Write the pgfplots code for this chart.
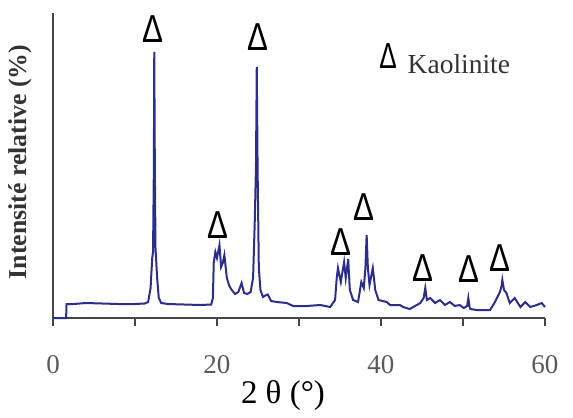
\documentclass[border=0pt]{standalone}
\usepackage{fontspec}
\setmainfont{Liberation Serif}
\newfontfamily\arialf{Liberation Sans}
\usepackage{graphicx}
\usepackage{pgfplots}
\pgfplotsset{compat=1.18}
\definecolor{curve}{RGB}{45,45,140}
\definecolor{axgray}{RGB}{70,70,70}
\newcommand{\tri}{{\arialf\fontsize{15.6}{16}\selectfont\scalebox{0.8}[1]{Δ}}}
\newcommand{\trismall}{{\arialf\fontsize{14.5}{15}\selectfont\scalebox{0.72}[1]{Δ}}}
\begin{document}
\begin{tikzpicture}
\useasboundingbox (0,0) rectangle (229.2pt,166.8pt);
\begin{axis}[
  scale only axis, width=196.8pt, height=122pt,
  at={(21.2pt,39.6pt)}, anchor=south west,
  xmin=0, xmax=60, ymin=0, ymax=305, enlargelimits=false, clip=false,
  axis x line*=bottom, axis y line*=left, axis line style={-, axgray, line width=0.6pt},
  xtick={0,10,...,60}, xticklabels={0,,20,,40,,60}, ytick=\empty,
  tick align=outside, major tick length=3.2pt, tick style={axgray, line width=0.6pt},
  /pgf/number format/assume math mode=true,
  xticklabel style={anchor=center, yshift=-15.6pt, font=\fontsize{10.8}{12}\selectfont, text=black!65},
  xlabel={2 θ (°)},
  xlabel style={at={(axis description cs:0.4675,-0.2525)}, anchor=center, font=\fontsize{13.2}{14}\selectfont},
  ylabel={Intensité relative (\%)},
  ylabel style={at={(axis description cs:-0.067,0.5115)}, anchor=center, font=\bfseries\fontsize{10.3}{12}\selectfont, text=black!80},
]
\addplot[curve, line width=0.8pt] coordinates {
(0,0) (1.6,0) (1.65,14) (2.5,14) (4,15) (6,14.5) (8,14) (10,14) (11.2,14.5) (11.6,16)
(11.9,30) (12.1,60) (12.2,66) (12.3,150) (12.35,266) (12.42,150) (12.5,70) (12.7,40)
(12.9,20) (13.2,15) (14,14) (16,13.5) (18,13) (19.3,13.5) (19.5,20) (19.6,55) (19.8,66)
(20.0,60) (20.3,73) (20.5,51) (20.7,55) (20.9,63) (21.2,40) (21.5,32) (21.8,28) (22.2,24)
(22.6,26) (23.0,35) (23.3,25) (23.7,24) (24.1,26) (24.4,40) (24.6,95) (24.75,150)
(24.85,251) (24.95,150) (25.1,50) (25.3,28) (25.6,21) (26.0,23) (26.2,23.5) (26.6,17)
(27.3,16) (28.5,15) (29.3,12) (30.9,12) (32.6,13) (33.8,11) (34.4,18) (34.6,40) (34.75,50)
(35.1,36) (35.5,56) (35.7,40) (36.0,59) (36.2,28) (36.6,18) (37.2,16) (37.6,36) (37.9,30)
(38.1,50) (38.25,83) (38.4,50) (38.6,33) (39.0,50) (39.3,28) (39.7,18) (40.7,16) (41.1,13)
(42.3,13) (42.7,11) (43.5,9) (44.8,15) (45.2,20) (45.4,30) (45.6,18) (46.0,20) (46.6,15)
(47.2,18) (47.8,13) (48.4,16) (49.0,12) (49.6,13) (50.1,10) (50.5,12) (50.65,20) (50.8,11)
(50.9,9) (51.7,8) (53.3,8) (53.9,16) (54.5,26) (54.7,32) (54.8,38) (55.0,28) (55.3,25)
(55.7,15) (56.3,20) (57.0,11) (57.6,16) (58.2,11) (59.0,13) (59.6,15) (60,11)
};
\node[anchor=base, inner sep=0] at (axis cs:12.2,275) {\tri};
\node[anchor=base, inner sep=0] at (axis cs:24.96,267) {\tri};
\node[anchor=base, inner sep=0] at (axis cs:20.12,80) {\tri};
\node[anchor=base, inner sep=0] at (axis cs:35.09,63) {\tri};
\node[anchor=base, inner sep=0] at (axis cs:37.96,98) {\tri};
\node[anchor=base, inner sep=0] at (axis cs:45.09,36.3) {\tri};
\node[anchor=base, inner sep=0] at (axis cs:50.77,36) {\tri};
\node[anchor=base, inner sep=0] at (axis cs:54.55,46.3) {\tri};
\node[anchor=base, inner sep=0] at (axis cs:40.85,250) {\trismall};
\node[anchor=base west, inner sep=0, text=black!80, font=\fontsize{11}{12}\selectfont] at (axis cs:43.2,245) {Kaolinite};
\end{axis}
\end{tikzpicture}
\end{document}
